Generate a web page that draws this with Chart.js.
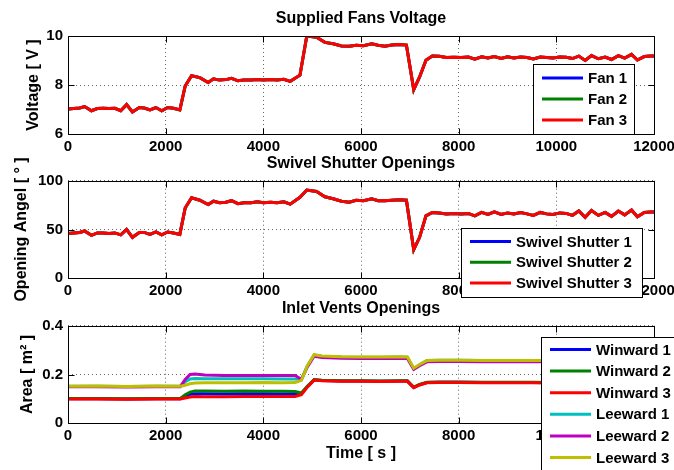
<!DOCTYPE html>
<html>
<head>
<meta charset="utf-8">
<script src="https://cdn.jsdelivr.net/npm/chart.js@4.4.1/dist/chart.umd.min.js"></script>
<style>
  html, body { margin: 0; padding: 0; background: #fff; }
  #wrap { position: relative; width: 674px; height: 470px; overflow: hidden; }
  #wrap canvas { position: absolute; left: 0; top: 0; }
</style>
</head>
<body>
<div id="wrap">
  <canvas id="fanChart" width="674" height="470"></canvas>
  <canvas id="shutterChart" width="674" height="470"></canvas>
  <canvas id="ventChart" width="674" height="470"></canvas>
</div>
<script>
// ============================================================
// Greenhouse actuators — fans, swivel shutters, inlet vents
// ============================================================

// ---- data (time in s) ----
const timeFan = [
  0, 120, 240, 340, 480, 600, 720, 840, 960, 1080,
  1200, 1320, 1460, 1560, 1680, 1800, 1920, 2040, 2160, 2290,
  2400, 2530, 2700, 2870, 2980, 3100, 3230, 3350, 3480, 3600,
  3750, 3880, 4000, 4150, 4280, 4420, 4550, 4750, 4890, 5090,
  5260, 5430, 5600, 5760, 5900, 6050, 6220, 6350, 6490, 6630,
  6780, 6930, 7080, 7200, 7330, 7460, 7600, 7750, 7900, 8050,
  8200, 8330, 8470, 8600, 8730, 8870, 9000, 9130, 9270, 9400,
  9530, 9670, 9800, 9930, 10070, 10200, 10330, 10460, 10590, 10720,
  10860, 11000, 11130, 11270, 11400, 11540, 11660, 11800, 11930, 12000,
];
const fanVoltage = [
  7.02, 7.04, 7.06, 7.12, 6.95, 7.04, 7.05, 7.04, 7.05, 6.95,
  7.2, 6.9, 7.08, 7.06, 6.98, 7.08, 6.95, 7.08, 7.05, 6.98,
  7.96, 8.38, 8.3, 8.1, 8.25, 8.2, 8.22, 8.27, 8.17, 8.2,
  8.2, 8.22, 8.2, 8.22, 8.2, 8.23, 8.15, 8.4, 10.0, 9.95,
  9.74, 9.68, 9.59, 9.58, 9.62, 9.6, 9.68, 9.62, 9.58, 9.63,
  9.65, 9.63, 7.81, 8.33, 9.01, 9.18, 9.17, 9.12, 9.13, 9.12,
  9.14, 9.05, 9.15, 9.1, 9.16, 9.08, 9.15, 9.1, 9.14, 9.12,
  9.06, 9.14, 9.12, 9.1, 9.14, 9.13, 9.08, 9.18, 9.0, 9.2,
  9.07, 9.14, 9.04, 9.2, 9.1, 9.25, 9.02, 9.16, 9.18, 9.18,
];
const shutterAngle = [
  45.8, 46.5, 47, 48.5, 44, 46.5, 46.5, 46, 46.5, 44.5,
  50, 42, 47, 47, 45, 47.5, 44.5, 47.5, 46.5, 45,
  72, 82.5, 80, 75.5, 79, 77.5, 78, 79.5, 76.5, 77.5,
  77.5, 78.5, 77.5, 78, 77.5, 78.3, 76, 83, 90.4, 89,
  83.5, 81.5, 79, 78, 80, 79.5, 81.5, 79.5, 79.5, 80,
  80.5, 80, 29.3, 42, 64, 67.4, 67, 66, 66.5, 66,
  66.5, 64, 67.5, 65.5, 68, 65.5, 67, 66, 67.5, 66,
  64.5, 67.5, 66, 65.5, 67, 66.5, 64.5, 69, 62.5, 69.5,
  64.5, 67.5, 63.5, 69, 65, 70, 63, 67.5, 68, 68,
];

const timeVent = [
  0, 600, 1200, 1800, 2300, 2400, 2500, 2600, 2800, 3200,
  3600, 4000, 4400, 4650, 4780, 4900, 5040, 5200, 5600, 6000,
  6400, 6800, 6950, 7080, 7200, 7350, 7600, 8000, 8500, 9000,
  9500, 10000, 10500, 11000, 11500, 12000,
];
const winward1 = [
  0.101, 0.101, 0.100, 0.101, 0.101, 0.112, 0.119, 0.121, 0.121, 0.120,
  0.121, 0.121, 0.120, 0.120, 0.122, 0.150, 0.178, 0.175, 0.173, 0.173,
  0.172, 0.173, 0.173, 0.147, 0.158, 0.167, 0.168, 0.168, 0.167, 0.167,
  0.167, 0.166, 0.166, 0.166, 0.166, 0.166,
];
const winward2 = [
  0.102, 0.102, 0.101, 0.102, 0.102, 0.117, 0.128, 0.132, 0.132, 0.131,
  0.132, 0.131, 0.131, 0.130, 0.124, 0.152, 0.179, 0.176, 0.174, 0.174,
  0.173, 0.174, 0.174, 0.148, 0.159, 0.168, 0.169, 0.169, 0.168, 0.168,
  0.168, 0.167, 0.167, 0.167, 0.167, 0.167,
];
const winward3 = [
  0.100, 0.100, 0.099, 0.100, 0.100, 0.104, 0.108, 0.110, 0.109, 0.109,
  0.110, 0.110, 0.110, 0.110, 0.117, 0.148, 0.177, 0.174, 0.172, 0.172,
  0.171, 0.172, 0.172, 0.146, 0.157, 0.166, 0.167, 0.167, 0.166, 0.166,
  0.166, 0.165, 0.165, 0.165, 0.165, 0.165,
];
const leeward1 = [
  0.152, 0.152, 0.151, 0.152, 0.152, 0.170, 0.182, 0.184, 0.183, 0.183,
  0.183, 0.183, 0.182, 0.182, 0.180, 0.235, 0.280, 0.275, 0.272, 0.271,
  0.271, 0.272, 0.271, 0.225, 0.240, 0.257, 0.258, 0.258, 0.257, 0.257,
  0.257, 0.257, 0.257, 0.256, 0.257, 0.257,
];
const leeward2 = [
  0.150, 0.150, 0.149, 0.150, 0.150, 0.180, 0.200, 0.202, 0.198, 0.196,
  0.196, 0.196, 0.196, 0.196, 0.180, 0.230, 0.275, 0.270, 0.267, 0.266,
  0.266, 0.267, 0.266, 0.221, 0.236, 0.252, 0.253, 0.253, 0.252, 0.252,
  0.252, 0.252, 0.252, 0.251, 0.252, 0.252,
];
const leeward3 = [
  0.152, 0.153, 0.151, 0.153, 0.152, 0.156, 0.162, 0.165, 0.166, 0.166,
  0.166, 0.167, 0.166, 0.167, 0.176, 0.235, 0.281, 0.276, 0.273, 0.272,
  0.272, 0.273, 0.272, 0.226, 0.241, 0.257, 0.258, 0.258, 0.257, 0.257,
  0.257, 0.257, 0.257, 0.256, 0.257, 0.257,
];

// tick labels
const timeTicks  = [0, 2000, 4000, 6000, 8000, 10000, 12000];
const voltTicks  = [6, 8, 10];
const angleTicks = [0, 50, 100];
const areaTicks  = [0, 0.2, 0.4];

// ---- defaults ----
Chart.defaults.font.family = "'Liberation Sans', Arial, Helvetica, sans-serif";
Chart.defaults.font.weight = 'bold';
Chart.defaults.font.size = 15;
Chart.defaults.color = '#000';

// axes box + inward tick marks (matlab look)
const frame = {
  id: 'frame',
  afterDatasetsDraw(chart) {
    const { ctx, chartArea: a, scales: { x, y } } = chart;
    const L = Math.round(a.left) + 0.5, R = Math.round(a.right) + 0.5;
    const T = Math.round(a.top) + 0.5,  B = Math.round(a.bottom) + 0.5;
    ctx.save();
    ctx.strokeStyle = '#000';
    ctx.lineWidth = 1;
    ctx.beginPath();
    x.ticks.forEach(t => {
      const px = Math.round(x.getPixelForValue(t.value)) + 0.5;
      ctx.moveTo(px, B); ctx.lineTo(px, B - 6);
      ctx.moveTo(px, T); ctx.lineTo(px, T + 6);
    });
    y.ticks.forEach(t => {
      const py = Math.round(y.getPixelForValue(t.value)) + 0.5;
      ctx.moveTo(L, py); ctx.lineTo(L + 6, py);
      ctx.moveTo(R, py); ctx.lineTo(R - 6, py);
    });
    ctx.rect(L, T, R - L, B - T);
    ctx.stroke();
    ctx.restore();
  }
};

// boxed legend drawn over the plot, like matlab's
const boxLegend = {
  id: 'boxLegend',
  afterDraw(chart, args, o) {
    const ctx = chart.ctx;
    ctx.save();
    ctx.fillStyle = '#fff';
    ctx.fillRect(o.left, o.top, o.width, o.height);
    ctx.strokeStyle = '#000';
    ctx.lineWidth = 1;
    ctx.strokeRect(o.left + 0.5, o.top + 0.5, o.width, o.height);
    ctx.font = "bold 15px 'Liberation Sans', Arial, sans-serif";
    ctx.textBaseline = 'middle';
    ctx.fillStyle = '#000';
    chart.data.datasets.forEach((ds, i) => {
      const cy = o.top + o.first + i * o.rowH;
      ctx.strokeStyle = ds.borderColor;
      ctx.lineWidth = 3;
      ctx.beginPath();
      ctx.moveTo(o.left + 9, cy);
      ctx.lineTo(o.left + 50, cy);
      ctx.stroke();
      ctx.fillText(ds.label, o.left + 55, cy + 1);
    });
    ctx.restore();
  }
};

function tickSetter(list) {
  return s => { s.ticks = list.map(v => ({ value: v })); };
}

function makeChart(id, o) {
  const n = o.series.length;
  return new Chart(document.getElementById(id), {
    type: 'line',
    data: {
      datasets: o.series.map((s, i) => ({
        label: s.label,
        data: o.times.map((t, k) => ({ x: t, y: s.values[k] })),
        borderColor: s.color,
        borderWidth: 3,
        pointRadius: 0,
        tension: 0,
        fill: false,
        order: n - i,
      }))
    },
    options: {
      responsive: false,
      animation: false,
      events: [],
      layout: { padding: o.padding },
      plugins: {
        legend: { display: false },
        tooltip: { enabled: false },
        title: {
          display: true, text: o.title, fullSize: false, color: '#000',
          font: { size: 16, weight: 'bold' }, padding: { top: 0, bottom: 8 }
        },
        boxLegend: o.legend,
      },
      scales: {
        x: {
          type: 'linear',
          min: timeTicks[0], max: timeTicks[timeTicks.length - 1],
          afterBuildTicks: tickSetter(timeTicks),
          afterFit: s => { s.height = o.xHeight; s.paddingLeft = 0; s.paddingRight = 0; },
          ticks: { padding: 4, maxRotation: 0, autoSkip: false, callback: v => String(v) },
          grid: { color: '#666', lineWidth: 1, drawTicks: false, borderDash: [1, 3] },
          border: { display: false, dash: [1, 3] },
          title: o.xTitle
            ? { display: true, text: o.xTitle, font: { size: 16, weight: 'bold' }, padding: { top: 0, bottom: 5 } }
            : { display: false },
        },
        y: {
          min: o.yTicks[0], max: o.yTicks[o.yTicks.length - 1],
          afterBuildTicks: tickSetter(o.yTicks),
          afterFit: s => { s.width = 68; s.paddingTop = 0; s.paddingBottom = 0; },
          ticks: { padding: 5 },
          grid: { color: '#666', lineWidth: 1, drawTicks: false, borderDash: [1, 3] },
          border: { display: false, dash: [1, 3] },
          title: { display: true, text: o.yTitle, font: { size: 16, weight: 'bold' }, padding: { top: o.yTitlePad, bottom: 0 } },
        }
      }
    },
    plugins: [frame, boxLegend]
  });
}

makeChart('fanChart', {
  title: 'Supplied Fans Voltage',
  yTitle: 'Voltage [ V ]', yTitlePad: 24,
  yTicks: voltTicks,
  times: timeFan,
  series: [
    { label: 'Fan 1', values: fanVoltage, color: '#0000ff' },
    { label: 'Fan 2', values: fanVoltage, color: '#008000' },
    { label: 'Fan 3', values: fanVoltage, color: '#ff0000' },
  ],
  padding: { left: 0, right: 20, top: 8.8, bottom: 306 },
  xHeight: 30,
  legend: { left: 533, top: 64, width: 101, height: 70, first: 14, rowH: 21 },
});

makeChart('shutterChart', {
  title: 'Swivel Shutter Openings',
  yTitle: 'Opening Angel [ \u00b0 ]', yTitlePad: 12,
  yTicks: angleTicks,
  times: timeFan,
  series: [
    { label: 'Swivel Shutter 1', values: shutterAngle, color: '#0000ff' },
    { label: 'Swivel Shutter 2', values: shutterAngle, color: '#008000' },
    { label: 'Swivel Shutter 3', values: shutterAngle, color: '#ff0000' },
  ],
  padding: { left: 0, right: 20, top: 153.5, bottom: 161.7 },
  xHeight: 30,
  legend: { left: 461, top: 228, width: 181, height: 69, first: 13.5, rowH: 20.8 },
});

makeChart('ventChart', {
  title: 'Inlet Vents Openings',
  yTitle: 'Area [ m\u00b2 ]', yTitlePad: 18,
  xTitle: 'Time [ s ]',
  yTicks: areaTicks,
  times: timeVent,
  series: [
    { label: 'Winward 1', values: winward1, color: '#0000ff' },
    { label: 'Winward 2', values: winward2, color: '#008000' },
    { label: 'Winward 3', values: winward3, color: '#ff0000' },
    { label: 'Leeward 1', values: leeward1, color: '#00bfbf' },
    { label: 'Leeward 2', values: leeward2, color: '#bf00bf' },
    { label: 'Leeward 3', values: leeward3, color: '#bfbf00' },
  ],
  padding: { left: 0, right: 20, top: 298.5, bottom: 1.7 },
  xHeight: 45,
  legend: { left: 541, top: 337, width: 140, height: 140, first: 12.5, rowH: 21.6 },
});
</script>
</body>
</html>
